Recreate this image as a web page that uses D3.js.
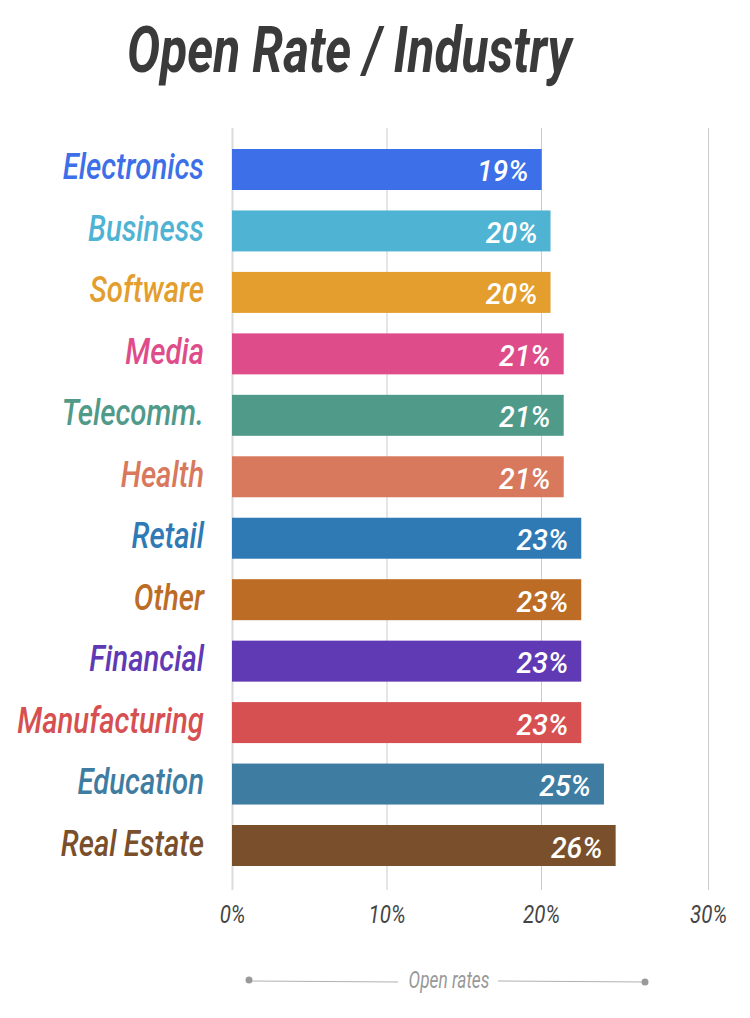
<!DOCTYPE html>
<html>
<head>
<meta charset="utf-8">
<script src="https://cdn.jsdelivr.net/npm/d3@7"></script>
<style>
  html, body { margin: 0; padding: 0; background: #fff; }
  svg { display: block; font-family: Roboto, "Noto Sans", sans-serif; }
</style>
</head>
<body>
<svg id="chart" width="750" height="1018"></svg>
<script>
const categories = ["Electronics", "Business", "Software", "Media", "Telecomm.", "Health",
  "Retail", "Other", "Financial", "Manufacturing", "Education", "Real Estate"];
const values = [20.04, 20.57, 20.57, 21.36, 21.36, 21.36, 22.41, 22.41, 22.41, 22.41, 23.77, 24.47];
const valueLabels = ["19%", "20%", "20%", "21%", "21%", "21%", "23%", "23%", "23%", "23%", "25%", "26%"];
const colors = ["#3d6fe8", "#4fb3d4", "#e39e2e", "#de4d8a", "#509a8a", "#d8785c",
  "#2f7ab5", "#bd6c26", "#6039b5", "#d65052", "#3f7ca1", "#7a4f2b"];
const tickValues = [0, 10, 20, 30];
const titleText = "Open Rate / Industry";
const legendText = "Open rates";

const svg = d3.select("#chart");

const x = d3.scaleLinear().domain([0, 20, 30]).range([232, 541, 708]);
const y = d3.scaleBand().domain(categories).range([149, 866]).paddingInner(0.333).paddingOuter(0);

// Title
svg.append("text")
  .attr("transform", "translate(127,72) scale(0.775,1)")
  .attr("font-size", 64)
  .attr("font-weight", 700)
  .attr("font-style", "italic")
  .attr("fill", "#3a3a3a")
  .text(titleText);

// Grid + axis
const axis = d3.axisBottom(x)
  .tickValues(tickValues)
  .tickFormat(d => d + "%")
  .tickSize(-(890 - 128))
  .tickPadding(0);
const gAxis = svg.append("g").attr("transform", "translate(0,890)").call(axis);
gAxis.select(".domain").remove();
gAxis.selectAll(".tick line")
  .attr("stroke", (d, i) => i === 0 ? "#dcdcdc" : "#cccccc")
  .attr("stroke-width", (d, i) => i === 0 ? 2 : 1);
gAxis.selectAll(".tick text")
  .attr("y", 33)
  .attr("dy", 0)
  .attr("transform", "scale(0.82,1)")
  .attr("font-family", "Roboto, sans-serif")
  .attr("font-size", 25)
  .attr("font-style", "italic")
  .attr("fill", "#444");

// Bars
svg.append("g").selectAll("rect")
  .data(categories)
  .join("rect")
  .attr("x", x(0))
  .attr("y", d => y(d))
  .attr("width", (d, i) => x(values[i]) - x(0))
  .attr("height", y.bandwidth())
  .attr("fill", (d, i) => colors[i]);

// Category labels
svg.append("g").selectAll("text")
  .data(categories)
  .join("text")
  .attr("transform", d => `translate(204,${y(d) + y.bandwidth() / 2 + 10}) scale(0.815,1)`)
  .attr("text-anchor", "end")
  .attr("font-size", 36)
  .attr("font-weight", 500)
  .attr("font-style", "italic")
  .attr("fill", (d, i) => colors[i])
  .text(d => d);

// Value labels
svg.append("g").selectAll("text")
  .data(categories)
  .join("text")
  .attr("transform", (d, i) => `translate(${x(values[i]) - 13},${y(d) + y.bandwidth() / 2 + 12}) scale(0.95,1)`)
  .attr("text-anchor", "end")
  .attr("font-size", 30)
  .attr("font-weight", 500)
  .attr("font-style", "italic")
  .attr("fill", "#ffffff")
  .text((d, i) => valueLabels[i]);

// Legend
const lg = svg.append("g");
lg.append("line").attr("x1", 250).attr("x2", 398).attr("y1", 981).attr("y2", 982)
  .attr("stroke", "#b0b0b0").attr("stroke-width", 1);
lg.append("line").attr("x1", 498).attr("x2", 645).attr("y1", 981).attr("y2", 982)
  .attr("stroke", "#b0b0b0").attr("stroke-width", 1);
lg.append("circle").attr("cx", 249).attr("cy", 980).attr("r", 3.5).attr("fill", "#999");
lg.append("circle").attr("cx", 645).attr("cy", 982).attr("r", 3.5).attr("fill", "#999");
lg.append("text")
  .attr("transform", "translate(449,988) scale(0.72,1)")
  .attr("text-anchor", "middle")
  .attr("font-size", 24)
  .attr("font-style", "italic")
  .attr("fill", "#999")
  .text(legendText);
</script>
</body>
</html>
